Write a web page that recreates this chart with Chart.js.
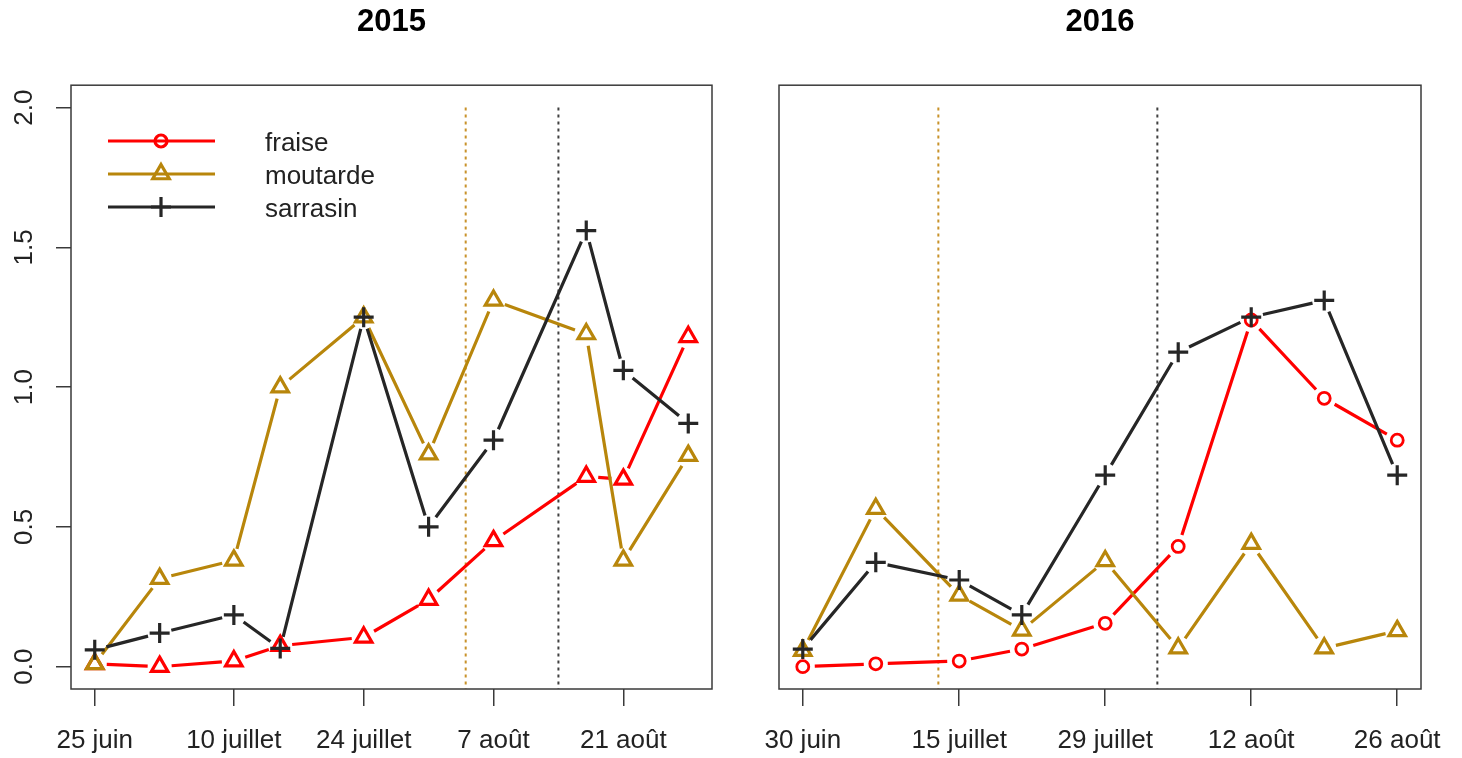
<!DOCTYPE html>
<html>
<head>
<meta charset="utf-8">
<script src="https://cdn.jsdelivr.net/npm/chart.js@4.4.0/dist/chart.umd.min.js"></script>
<style>
  html, body { margin: 0; padding: 0; background: #fff; }
  #wrap { position: relative; width: 1462px; height: 758px; overflow: hidden; }
  #wrap canvas { position: absolute; top: 0; }
</style>
</head>
<body>
<div id="wrap">
  <canvas id="c2015" width="783" height="758" style="left:0"></canvas>
  <canvas id="c2016" width="724" height="758" style="left:738px"></canvas>
</div>
<script>
// séries par année, x = jours depuis le premier relevé
const seriesNames = ['fraise', 'moutarde', 'sarrasin'];
const seriesColors = ['#ff0000', '#b8860b', '#262626'];

const days2015 = [0, 7, 15, 20, 29, 36, 43, 53, 57, 64];
const fraise2015 = [0.01, 0.00, 0.02, 0.075, 0.105, 0.24, 0.45, 0.68, 0.67, 1.18];
const moutarde2015 = [0.01, 0.315, 0.38, 1.00, 1.25, 0.76, 1.31, 1.19, 0.38, 0.755];
const sarrasin2015 = [0.06, 0.12, 0.185, 0.065, 1.25, 0.50, 0.81, 1.56, 1.06, 0.87];
const tickDays2015 = [0, 15, 29, 43, 57];
const tickLabels2015 = ['25 juin', '10 juillet', '24 juillet', '7 août', '21 août'];
const flowerDays2015 = [40, 50];

const days2016 = [0, 7, 15, 21, 29, 36, 43, 50, 57];
const fraise2016 = [0.00, 0.01, 0.02, 0.063, 0.155, 0.43, 1.24, 0.96, 0.81];
const moutarde2016 = [0.057, 0.565, 0.255, 0.13, 0.378, 0.066, 0.44, 0.066, 0.128];
const sarrasin2016 = [0.063, 0.373, 0.31, 0.185, 0.685, 1.125, 1.25, 1.31, 0.685];
const tickDays2016 = [0, 15, 29, 43, 57];
const tickLabels2016 = ['30 juin', '15 juillet', '29 juillet', '12 août', '26 août'];
const flowerDays2016 = [13, 34];

const yTicks = [0, 0.5, 1, 1.5, 2];
const yTickLabels = ['0.0', '0.5', '1.0', '1.5', '2.0'];

const FONT = "'Liberation Sans', Arial, Helvetica, sans-serif";
Chart.defaults.font.family = FONT;

const GAP = 12;   // espace autour des points (comme type = "b")
const markers = {
  circle: { pointStyle: 'circle', radius: 6, borderWidth: 2.8 },
  triangle: { pointStyle: 'triangle', radius: 9.5, borderWidth: 3.2 },
  cross: { pointStyle: 'cross', radius: 10, borderWidth: 3.2 }
};

// segments interrompus aux points
const gappedLines = {
  id: 'gappedLines',
  beforeDatasetsDraw(chart) {
    const ctx = chart.ctx;
    chart.data.datasets.forEach((ds, i) => {
      const pts = chart.getDatasetMeta(i).data;
      ctx.save();
      ctx.strokeStyle = ds.borderColor;
      ctx.lineWidth = 3.2;
      ctx.beginPath();
      for (let k = 1; k < pts.length; k++) {
        const a = pts[k - 1], b = pts[k];
        const dx = b.x - a.x, dy = b.y - a.y, d = Math.hypot(dx, dy);
        if (d <= 2 * GAP) continue;
        const ux = dx / d, uy = dy / d;
        ctx.moveTo(a.x + ux * GAP, a.y + uy * GAP);
        ctx.lineTo(b.x - ux * GAP, b.y - uy * GAP);
      }
      ctx.stroke();
      ctx.restore();
    });
  }
};

// cadre, pointillés de floraison, étiquettes y, légende
const rDecor = {
  id: 'rDecor',
  beforeDatasetsDraw(chart, args, opts) {
    const { ctx, chartArea, scales } = chart;
    opts.vlines.forEach((d, i) => {
      const x = scales.x.getPixelForValue(d);
      ctx.save();
      ctx.strokeStyle = opts.vlineColors[i];
      ctx.lineWidth = 2;
      ctx.setLineDash([3, 4]);
      ctx.beginPath();
      ctx.moveTo(x, scales.y.getPixelForValue(2));
      ctx.lineTo(x, chartArea.bottom);
      ctx.stroke();
      ctx.restore();
    });
  },
  afterDraw(chart, args, opts) {
    const { ctx, chartArea, scales } = chart;
    ctx.save();
    ctx.strokeStyle = '#3a3a3a';
    ctx.lineWidth = 1.5;
    ctx.strokeRect(chartArea.left, chartArea.top, chartArea.right - chartArea.left, chartArea.bottom - chartArea.top);

    if (opts.yLabels) {
      ctx.fillStyle = '#222';
      ctx.font = '26px ' + FONT;
      ctx.textAlign = 'center';
      ctx.textBaseline = 'alphabetic';
      yTicks.forEach((v, i) => {
        ctx.save();
        ctx.translate(32, scales.y.getPixelForValue(v));
        ctx.rotate(-Math.PI / 2);
        ctx.fillText(yTickLabels[i], 0, 0);
        ctx.restore();
      });
    }

    if (opts.legend) {
      const legendStyles = ['circle', 'triangle', 'cross'];
      seriesNames.forEach((name, i) => {
        const y = 141 + i * 33;
        ctx.strokeStyle = seriesColors[i];
        ctx.lineWidth = 3.2;
        ctx.beginPath();
        ctx.moveTo(108, y);
        ctx.lineTo(215, y);
        ctx.stroke();
        ctx.fillStyle = 'rgba(0,0,0,0)';
        Chart.helpers.drawPoint(ctx, Object.assign({ rotation: 0 }, markers[legendStyles[i]]), 161, y);
        ctx.fillStyle = '#222';
        ctx.font = '26px ' + FONT;
        ctx.textAlign = 'left';
        ctx.textBaseline = 'middle';
        ctx.fillText(name, 265, y + 3);
      });
    }
    ctx.restore();
  }
};

function dataset(label, days, values, color, style, order) {
  const m = markers[style];
  return {
    label,
    data: days.map((d, i) => ({ x: d, y: values[i] })),
    borderColor: color,
    backgroundColor: 'rgba(0,0,0,0)',
    pointBorderColor: color,
    pointBackgroundColor: 'rgba(0,0,0,0)',
    pointStyle: m.pointStyle,
    pointRadius: m.radius,
    pointBorderWidth: m.borderWidth,
    showLine: false,
    order
  };
}

function panel(canvasId, opts) {
  const span = opts.days[opts.days.length - 1] - opts.days[0];
  return new Chart(document.getElementById(canvasId), {
    type: 'scatter',
    data: {
      datasets: [
        dataset('fraise', opts.days, opts.fraise, seriesColors[0], opts.fraiseStyle, 2),
        dataset('moutarde', opts.days, opts.moutarde, seriesColors[1], 'triangle', 1),
        dataset('sarrasin', opts.days, opts.sarrasin, seriesColors[2], 'cross', 0)
      ]
    },
    options: {
      responsive: false,
      animation: false,
      layout: { padding: opts.padding },
      plugins: {
        legend: { display: false },
        tooltip: { enabled: false },
        title: {
          display: true,
          text: opts.title,
          fullSize: false,
          color: '#000',
          font: { size: 31, weight: 'bold', lineHeight: 1.2 },
          padding: { top: 4, bottom: 44 }
        },
        rDecor: {
          vlines: opts.flowerDays,
          vlineColors: ['#c8922a', '#404040'],
          yLabels: opts.yAxis,
          legend: opts.legend
        }
      },
      scales: {
        x: {
          type: 'linear',
          min: opts.days[0] - 0.04 * span,
          max: opts.days[opts.days.length - 1] + 0.04 * span,
          afterBuildTicks: s => { s.ticks = opts.tickDays.map(v => ({ value: v })); },
          afterFit: s => { s.height = 69; },
          ticks: {
            callback: (v, i) => opts.tickLabels[i],
            autoSkip: false,
            maxRotation: 0,
            color: '#222',
            font: { size: 26 },
            padding: 19
          },
          grid: { drawOnChartArea: false, drawTicks: true, tickLength: 17, color: '#3a3a3a', lineWidth: 1.5 },
          border: { display: false }
        },
        y: {
          display: opts.yAxis,
          min: -0.08,
          max: 2.08,
          afterBuildTicks: s => { s.ticks = yTicks.map(v => ({ value: v })); },
          afterFit: s => { s.width = opts.yAxis ? 71 : 0; },
          ticks: { display: false },
          grid: { drawOnChartArea: false, drawTicks: true, tickLength: 15, color: '#3a3a3a', lineWidth: 1.5 },
          border: { display: false }
        }
      }
    },
    plugins: [rDecor, gappedLines]
  });
}

panel('c2015', {
  title: '2015',
  days: days2015, fraise: fraise2015, moutarde: moutarde2015, sarrasin: sarrasin2015,
  fraiseStyle: 'triangle',
  tickDays: tickDays2015, tickLabels: tickLabels2015,
  flowerDays: flowerDays2015,
  yAxis: true, legend: true,
  padding: { left: 0, right: 71, top: 0, bottom: 0 }
});

panel('c2016', {
  title: '2016',
  days: days2016, fraise: fraise2016, moutarde: moutarde2016, sarrasin: sarrasin2016,
  fraiseStyle: 'circle',
  tickDays: tickDays2016, tickLabels: tickLabels2016,
  flowerDays: flowerDays2016,
  yAxis: false, legend: false,
  padding: { left: 41, right: 41, top: 0, bottom: 0 }
});
</script>
</body>
</html>
